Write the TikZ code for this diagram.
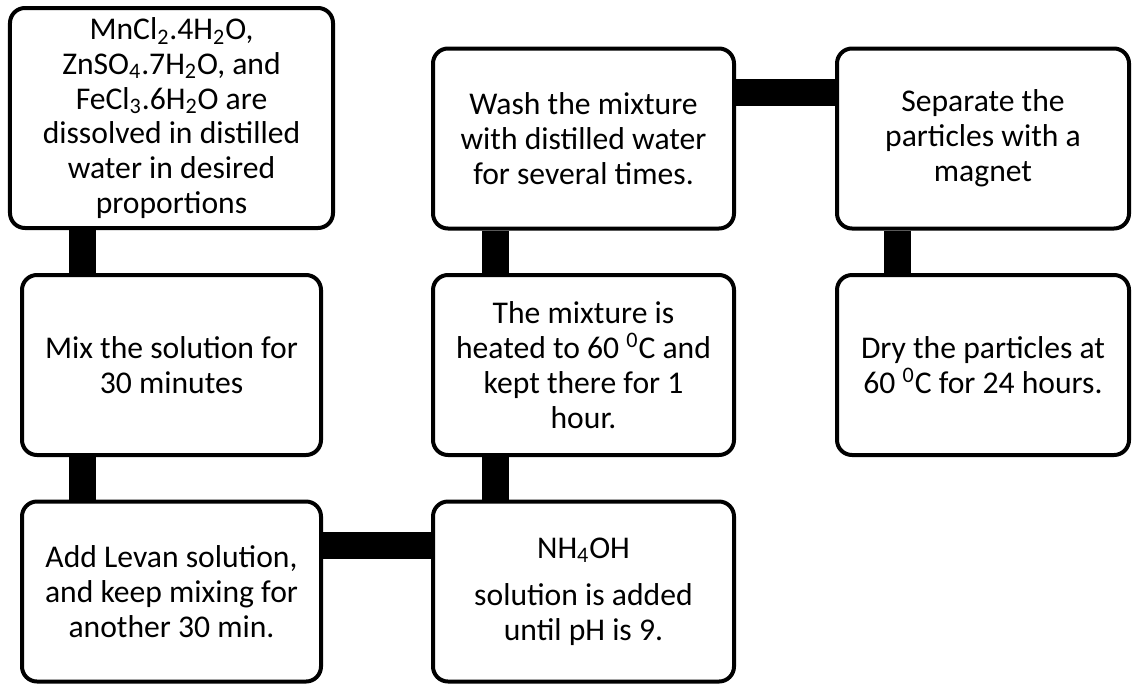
\documentclass[tikz,border=0pt]{standalone}
\usepackage{fontspec}
\setmainfont{Carlito}
\begin{document}
\begin{tikzpicture}[
  box/.style={draw, line width=0.08cm, rounded corners=0.3cm, fill=white, align=center,
    minimum height=3.6cm, inner sep=2pt, font=\fontsize{18}{19.8}\selectfont},
  bar/.style={line width=0.54cm}]
\useasboundingbox (0,0) rectangle (22.64,-13.68);
\node[box, minimum width=6.46cm, minimum height=4.4cm] (1s) at (3.43,-2.36) {MnCl\textsubscript{2}.4H\textsubscript{2}O,\\ZnSO\textsubscript{4}.7H\textsubscript{2}O, and\\FeCl\textsubscript{3}.6H\textsubscript{2}O are\\dissolved in distilled\\water in desired\\proportions};
\node[box, minimum width=5.98cm] (2s) at (3.43,-7.30) {Mix the solution for\\30 minutes};
\node[box, minimum width=5.98cm] (3s) at (3.43,-11.83) {Add Levan solution,\\and keep mixing for\\another 30 min.};
\node[box, minimum width=6.02cm] (4s) at (11.67,-11.83) {NH\textsubscript{4}OH\\[7pt]solution is added\\until pH is 9.};
\node[box, minimum width=6.02cm] (5s) at (11.67,-7.30) {The mixture is\\heated to 60 \textsuperscript{0}C and\\kept there for 1\\hour.};
\node[box, minimum width=6.02cm] (6s) at (11.67,-2.77) {Wash the mixture\\with distilled water\\for several times.};
\node[box, minimum width=5.84cm] (7s) at (19.66,-2.77) {Separate the\\particles with a\\magnet};
\node[box, minimum width=5.84cm] (8s) at (19.66,-7.30) {Dry the particles at\\60 \textsuperscript{0}C for 24 hours.};

\path[draw,bar] ([xshift=-1.79cm]1s.south) -- ([xshift=-1.79cm]2s.north);
\path[draw,bar] ([xshift=-1.79cm]2s.south) -- ([xshift=-1.79cm]3s.north);
\path[draw,bar] ([yshift=0.92cm]3s.east) -- ([yshift=0.92cm]4s.west);
\path[draw,bar] ([xshift=-1.77cm]4s.north) -- ([xshift=-1.77cm]5s.south);
\path[draw,bar] ([xshift=-1.77cm]5s.north) -- ([xshift=-1.77cm]6s.south);
\path[draw,bar] ([yshift=0.92cm]6s.east) -- ([yshift=0.92cm]7s.west);
\path[draw,bar] ([xshift=-1.72cm]7s.south) -- ([xshift=-1.72cm]8s.north);
\end{tikzpicture}
\end{document}
